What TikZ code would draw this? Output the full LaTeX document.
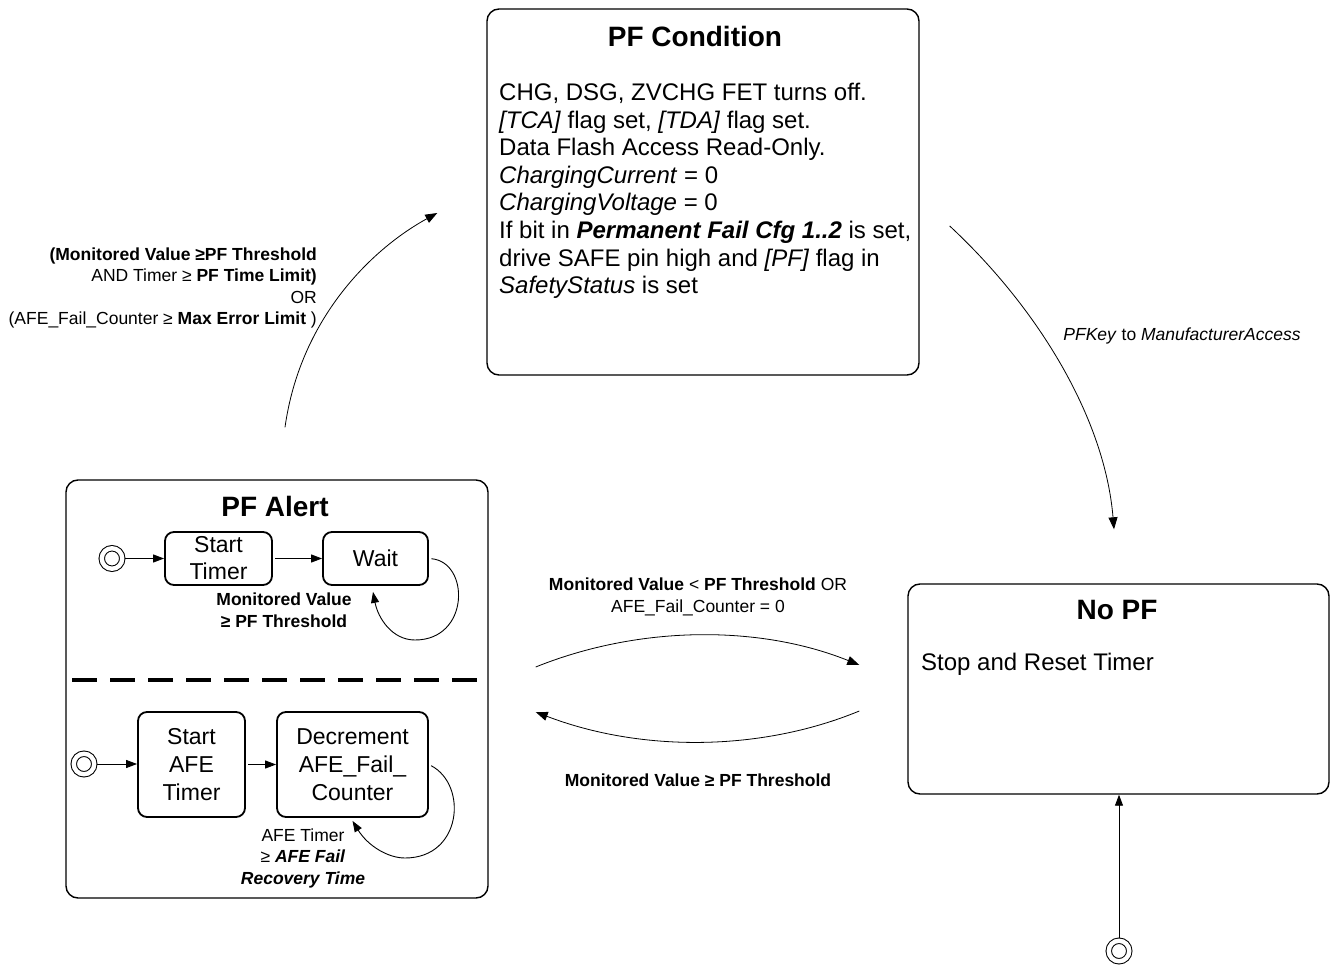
\documentclass[tikz,border=0pt]{standalone}
\usepackage{fontspec}
\setmainfont{Liberation Sans}
\usetikzlibrary{calc,arrows.meta}
\tikzset{
  state/.style={draw, line width=1.4pt, rounded corners=12pt, inner sep=0pt},
  sub/.style={draw, line width=1.8pt, rounded corners=9pt, inner sep=0pt, align=center, font=\fontsize{23}{27}\selectfont},
  init/.style={circle, draw, line width=1pt, double, double distance=4.4pt, minimum size=20.5pt, inner sep=0pt},
  arr/.style={line width=0.9pt, shorten <=2.5pt, -{Triangle[length=11pt,width=8pt]}},
  link/.style={line width=0.8pt, -{Triangle[length=12pt,width=9pt]}},
  ttl/.style={font=\bfseries\fontsize{28}{32}\selectfont, inner sep=0pt},
  body/.style={font=\fontsize{24}{27.6}\selectfont, align=left, inner sep=0pt},
  lab/.style={font=\fontsize{17.5}{21.5}\selectfont, inner sep=0pt},
  sep/.style={line width=4pt, dash pattern=on 25pt off 13pt},
}
\begin{document}
\begin{tikzpicture}[x=1pt,y=-1pt]
  \useasboundingbox (0,0) rectangle (1331,965);

  \node[state, minimum width=432pt, minimum height=366pt] (cond) at (703,192) {};
  \node[state, minimum width=422pt, minimum height=418pt] (alert) at (277,689) {};
  \node[state, minimum width=421pt, minimum height=210pt] (nopf) at (1118.5,689) {};

  \node[ttl] (condtitle) at (695,36) {PF Condition};
  \node[body, anchor=north west] (condtext) at (499,83) {CHG, DSG, ZVCHG FET turns off.\\
    \textit{[TCA]} flag set, \textit{[TDA]} flag set.\\
    Data Flash Access Read-Only.\\
    \textit{ChargingCurrent} = 0\\
    \textit{ChargingVoltage} = 0\\
    If bit in \textbf{\textit{Permanent Fail Cfg 1..2}} is set,\\
    drive SAFE pin high and \textit{[PF]} flag in\\
    \textit{SafetyStatus} is set};

  \node[ttl] (alerttitle) at (275,506) {PF Alert};
  \node[ttl] (nopftitle) at (1117,610) {No PF};
  \node[body, anchor=base west] (nopftext) at (921,670) {Stop and Reset Timer};

  \node[init] (init1) at (112,558.5) {};
  \node[sub, minimum width=107pt, minimum height=53pt] (starttimer) at (218.5,558.5) {Start\\Timer};
  \node[sub, minimum width=105pt, minimum height=53pt] (wait) at (375.5,558.5) {Wait};
  \node[lab, align=center] (waitlab) at (284,610) {\textbf{Monitored Value}\\\textbf{≥ PF Threshold}};

  \draw[sep] (72,680) -- (482,680);

  \node[init] (init2) at (84,764) {};
  \node[sub, font=\fontsize{23}{28}\selectfont, minimum width=107pt, minimum height=105pt] (startafe) at (191.5,764.5) {Start\\AFE\\Timer};
  \node[sub, font=\fontsize{23}{28}\selectfont, minimum width=151pt, minimum height=105pt] (decrement) at (352.5,764.5) {Decrement\\AFE\_Fail\_\\Counter};
  \node[lab, align=center] (declab) at (303,858) {AFE Timer\\≥ \textbf{\textit{AFE Fail}}\\\textbf{\textit{Recovery Time}}};

  \node[init] (init3) at (1119,951) {};

  \draw[arr] (init1) -- (starttimer);
  \draw[arr] (starttimer) -- (wait);
  \coordinate (waitin) at ($(wait.south)+(-2.5,6)$);
  \draw[arr] (wait.east) .. controls (470,562) and (470,640) .. (415,640)
    .. controls (392,640) and (378,618) .. (waitin);

  \draw[arr] (init2) -- (init2 -| startafe.west);
  \draw[arr] (startafe) -- (decrement);
  \coordinate (decin) at ($(decrement.south)+(0,3)$);
  \draw[arr] (decrement.east) .. controls (468,785) and (462,858) .. (405,858)
    .. controls (388,858) and (368,846) .. (decin);

  \draw[arr] (init3) -- (init3 |- nopf.south);

  \coordinate (a2c) at ($(alert.north)+(8,-52)$);
  \coordinate (c2a) at ($(cond.west)+(-49,21)$);
  \draw[link] (a2c) .. controls (300,320) and (370,250) .. (c2a);
  \node[lab, align=right, anchor=east] (alertlab) at (317,288) {\textbf{(Monitored Value ≥PF Threshold}\\
    AND Timer ≥ \textbf{PF Time Limit)}\\
    OR\\
    (AFE\_Fail\_Counter ≥ \textbf{Max Error Limit} )};

  \coordinate (c2n) at ($(cond.east)+(30,34)$);
  \coordinate (n2c) at ($(nopf.north)+(-4.5,-54)$);
  \draw[link] (c2n) .. controls (1040,310) and (1105,420) .. (n2c);
  \node[lab] (keylab) at (1182,336) {\textit{PFKey} to \textit{ManufacturerAccess}};

  \coordinate (aout) at ($(alert.east)+(47,-22)$);
  \coordinate (nin) at ($(nopf.west)+(-48,-24)$);
  \draw[link] (aout) .. controls (640,625) and (760,625) .. (nin);
  \node[lab, align=center] (uplab) at (698,597) {\textbf{Monitored Value} < \textbf{PF Threshold} OR\\AFE\_Fail\_Counter = 0};

  \coordinate (nout) at ($(nopf.west)+(-48,22)$);
  \coordinate (ain) at ($(alert.east)+(47,23)$);
  \draw[link] (nout) .. controls (760,752) and (640,752) .. (ain);
  \node[lab] (lowlab) at (698,780) {\textbf{Monitored Value ≥ PF Threshold}};
\end{tikzpicture}
\end{document}
